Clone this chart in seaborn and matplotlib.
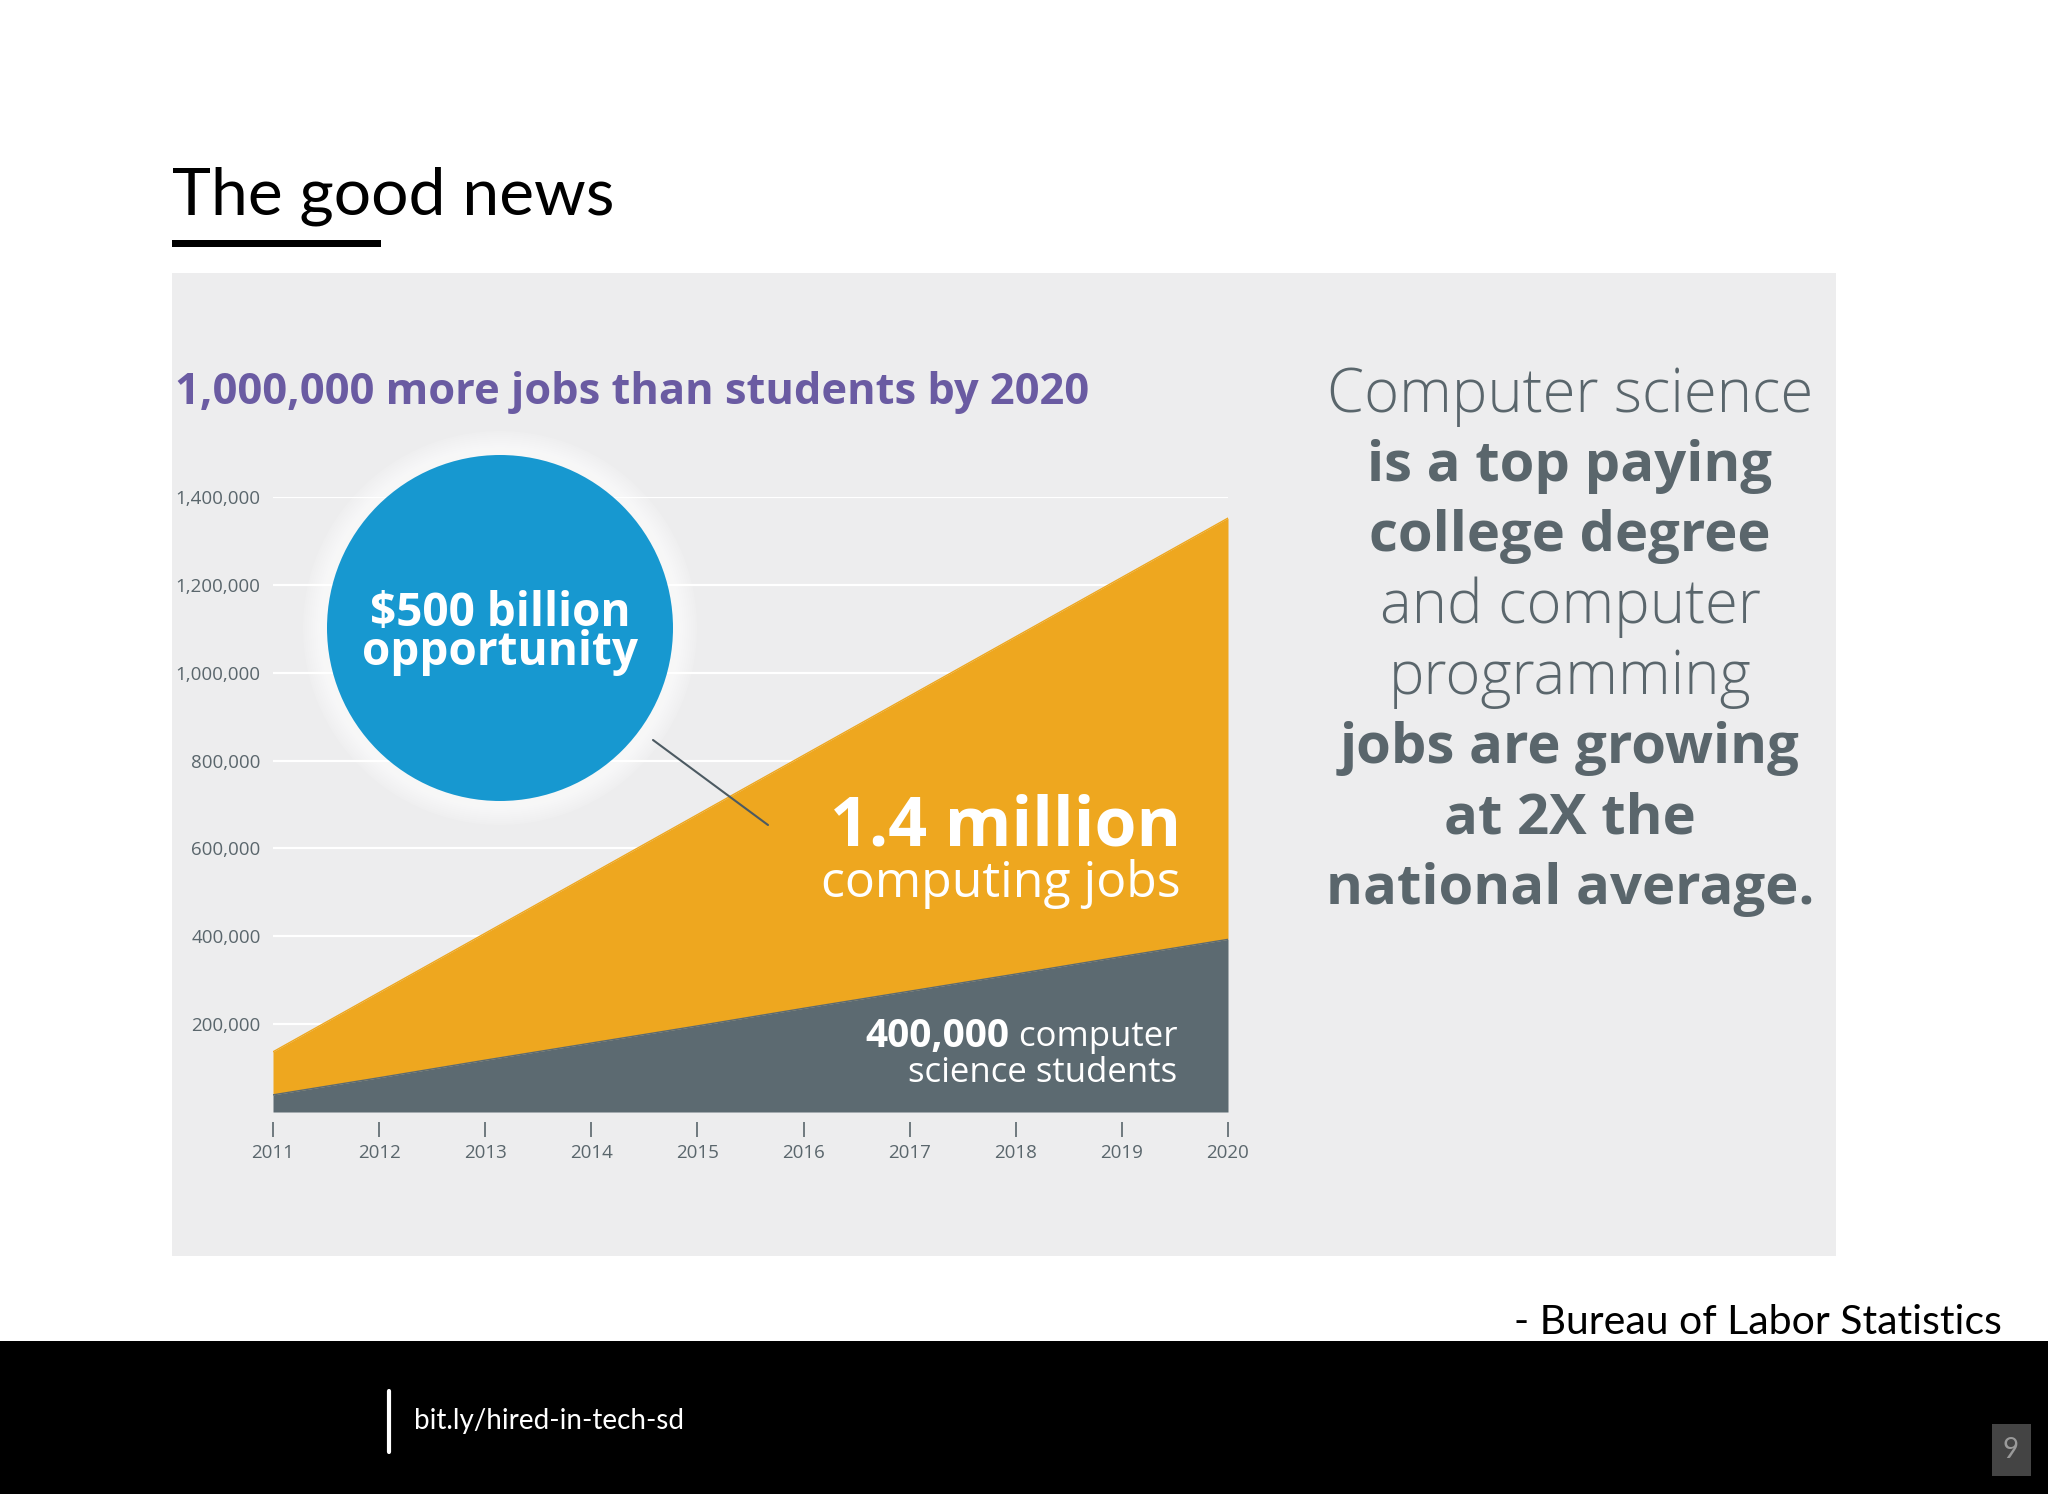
import numpy as np
import pandas as pd
import matplotlib
matplotlib.use("Agg")
import matplotlib.pyplot as plt
from matplotlib.patches import Circle, Rectangle
from matplotlib.lines import Line2D
import seaborn as sns

# data
years = [2011, 2012, 2013, 2014, 2015, 2016, 2017, 2018, 2019, 2020]
jobs = [137000, 272000, 407000, 542000, 677000, 812000, 947000, 1082000, 1217000, 1352000]
students = [39000, 78000, 118000, 157000, 196000, 236000, 275000, 314000, 354000, 393000]
y_ticks = [200000, 400000, 600000, 800000, 1000000, 1200000, 1400000]

ORANGE = "#EEA71F"
SLATE = "#5C6A71"
BLUE = "#1798D0"
PURPLE = "#6A5BA2"
TEXT = "#5A666C"
PANEL = "#EDEDEE"

sns.set_theme(style="white")
plt.rcParams["font.family"] = ["Open Sans", "DejaVu Sans"]

W, H = 2048, 1494
fig = plt.figure(figsize=(W / 100, H / 100), dpi=100)
fig.patch.set_facecolor("white")


def px(x, y):
    return x / W, 1 - y / H


# slide title + underline
fig.text(*px(172, 215), "The good news", fontsize=47.5, family=["Lato", "DejaVu Sans"],
         color="black", ha="left", va="baseline")
fig.add_artist(Rectangle(px(172, 247), 209 / W, 7 / H, transform=fig.transFigure,
                         color="black", lw=0))

# grey panel
fig.add_artist(Rectangle(px(172, 1256), (1836 - 172) / W, (1256 - 273) / H,
                         transform=fig.transFigure, color=PANEL, lw=0, zorder=0))

fig.text(*px(175, 392), "1,000,000 more jobs than students by 2020", fontsize=31.2,
         fontweight="bold", color=PURPLE, ha="left", va="center")

# chart axes
ax = fig.add_axes([273 / W, 1 - 1112 / H, 955 / W, (1112 - 497) / H])
ax.set_facecolor("none")
df = pd.DataFrame({"year": years, "jobs": jobs, "students": students})
ax.fill_between(df["year"], df["students"], df["jobs"], color=ORANGE, lw=0, zorder=2)
ax.fill_between(df["year"], 0, df["students"], color=SLATE, lw=0, zorder=3)
sns.lineplot(data=df, x="year", y="jobs", color=ORANGE, lw=1, ax=ax, zorder=2)
sns.lineplot(data=df, x="year", y="students", color=SLATE, lw=1, ax=ax, zorder=3)
ax.set_xlim(2011, 2020)
ax.set_ylim(0, 1400000)
ax.set_xlabel("")
ax.set_ylabel("")
for s in ["top", "right", "left"]:
    ax.spines[s].set_visible(False)
ax.spines["bottom"].set_position(("outward", 7))
ax.spines["bottom"].set_visible(False)
ax.set_yticks(y_ticks)
ax.set_yticklabels([f"{v:,}" for v in y_ticks])
ax.set_xticks(years)
ax.set_xticklabels([str(y) for y in years])
ax.tick_params(axis="y", left=False, length=0, pad=9, labelsize=13.5, labelcolor=TEXT)
ax.tick_params(axis="x", bottom=True, length=11, width=1.4, color="#6f797e",
               direction="out", pad=5, labelsize=13.5, labelcolor=TEXT)
ax.grid(axis="y", color="white", lw=1.6, zorder=1)
ax.grid(axis="x", visible=False)
ax.set_axisbelow(True)

# annotation text on the areas
fig.text(*px(1181, 845), "1.4 million", fontsize=49, fontweight="bold", color="white",
         ha="right", va="baseline")
fig.text(*px(1181, 884), "computing jobs", fontsize=36, color="white",
         ha="right", va="center")
t_comp = fig.text(*px(1177, 1037), " computer", fontsize=25, color="white",
                  ha="right", va="center")
renderer = fig.canvas.get_renderer()
x0 = t_comp.get_window_extent(renderer).x0 / W
fig.text(x0, 1 - 1037 / H, "400,000", fontsize=28, fontweight="bold", color="white",
         ha="right", va="center")
fig.text(*px(1177, 1073), "science students", fontsize=25, color="white",
         ha="right", va="center")

# circle with glow
cx, cy, r = 500 / 100, (H - 628) / 100, 1.73
for k in range(12, 0, -1):
    fig.add_artist(Circle((cx, cy), r + k * 0.02, transform=fig.dpi_scale_trans,
                          color="white", alpha=0.12, lw=0, zorder=4))
fig.add_artist(Circle((cx, cy), r, transform=fig.dpi_scale_trans, color=BLUE, lw=0, zorder=5))
fig.text(*px(500, 633), "$500 billion\nopportunity", fontsize=33, fontweight="bold",
         color="white", ha="center", va="center", multialignment="center",
         linespacing=0.8, zorder=6)
fig.add_artist(Line2D([653 / W, 768 / W], [1 - 740 / H, 1 - 825 / H],
                      transform=fig.transFigure, color="#4c5a62", lw=1.5, zorder=6))

# right hand statement
lines = [("Computer science", "light"), ("is a top paying", "bold"),
         ("college degree", "bold"), ("and computer", "light"),
         ("programming", "light"), ("jobs are growing", "bold"),
         ("at 2X the", "bold"), ("national average.", "bold")]
for i, (t, w) in enumerate(lines):
    fig.text(*px(1570, 396 + i * 70.5), t, fontsize=43 if w == "light" else 40.5,
             fontweight=w, color=TEXT, ha="center", va="center")

fig.text(*px(2002, 1334), "- Bureau of Labor Statistics", fontsize=29.5,
         family=["Lato", "DejaVu Sans"], color="black", ha="right", va="baseline")

# footer band
fig.add_artist(Rectangle((0, 0), 1, (H - 1341) / H, transform=fig.transFigure,
                         color="black", lw=0))
fig.add_artist(Line2D([389 / W, 389 / W], [1 - 1391 / H, 1 - 1452 / H],
                      transform=fig.transFigure, color="white", lw=3))
fig.text(*px(414, 1421), "bit.ly/hired-in-tech-sd", fontsize=20,
         family=["Lato", "DejaVu Sans"], color="white", ha="left", va="center")
fig.add_artist(Rectangle(px(1992, 1476), 39 / W, 52 / H, transform=fig.transFigure,
                         color="#444444", lw=0))
fig.text(*px(2011, 1450), "9", fontsize=20, family=["Lato", "DejaVu Sans"],
         color="#9a9a9a", ha="center", va="center")

fig.savefig("out.png", dpi=100)
